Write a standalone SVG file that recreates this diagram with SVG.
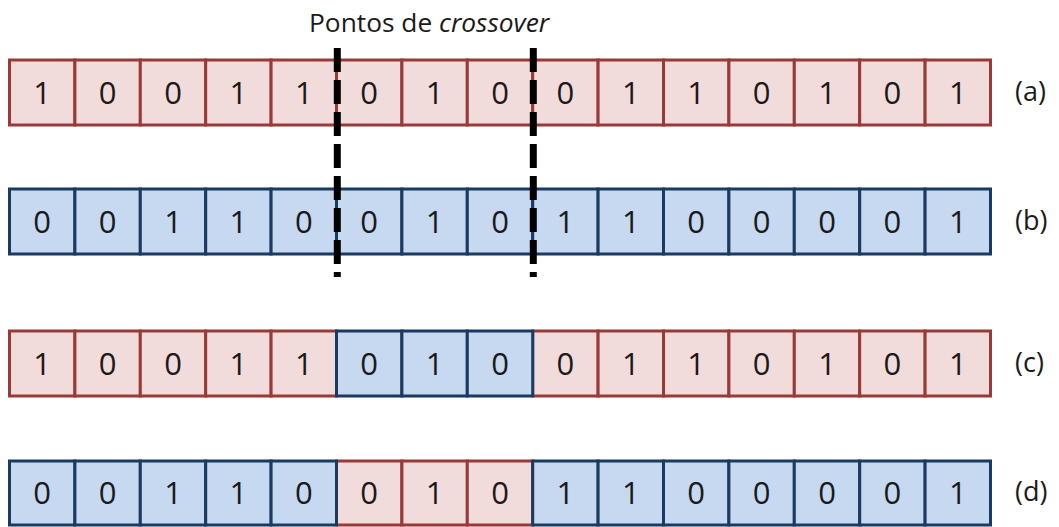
<svg xmlns="http://www.w3.org/2000/svg" width="1059" height="527" viewBox="0 0 1059 527">
<style>
.r{fill:#F2DCDB;stroke:#9A3A38;stroke-width:3}
.b{fill:#C6D9F1;stroke:#1B3A62;stroke-width:3}
.d{font-family:"Open Sans","Liberation Sans",sans-serif;font-size:31px;fill:#1a1a1a;text-anchor:middle}
.l{font-family:"Open Sans","Liberation Sans",sans-serif;font-size:27px;fill:#1a1a1a}
.t{font-family:"Open Sans","Liberation Sans",sans-serif;font-size:26.3px;fill:#1a1a1a}
.cut{stroke:#000;stroke-width:7;stroke-dasharray:24 8;fill:none}
</style>
<rect width="1059" height="527" fill="#fff"/>
<g id="row-a">
<rect class="r" x="9.5" y="60" width="65.4" height="65"/><rect class="r" x="74.9" y="60" width="65.4" height="65"/><rect class="r" x="140.3" y="60" width="65.4" height="65"/><rect class="r" x="205.7" y="60" width="65.4" height="65"/><rect class="r" x="271.1" y="60" width="65.4" height="65"/><rect class="r" x="336.5" y="60" width="65.4" height="65"/><rect class="r" x="401.9" y="60" width="65.4" height="65"/><rect class="r" x="467.3" y="60" width="65.4" height="65"/><rect class="r" x="532.7" y="60" width="65.4" height="65"/><rect class="r" x="598.1" y="60" width="65.4" height="65"/><rect class="r" x="663.5" y="60" width="65.4" height="65"/><rect class="r" x="728.9" y="60" width="65.4" height="65"/><rect class="r" x="794.3" y="60" width="65.4" height="65"/><rect class="r" x="859.7" y="60" width="65.4" height="65"/><rect class="r" x="925.1" y="60" width="65.4" height="65"/>
<text class="d" y="104"><tspan x="42.2">1</tspan><tspan x="107.6">0</tspan><tspan x="173">0</tspan><tspan x="238.4">1</tspan><tspan x="303.8">1</tspan><tspan x="369.2">0</tspan><tspan x="434.6">1</tspan><tspan x="500">0</tspan><tspan x="565.4">0</tspan><tspan x="630.8">1</tspan><tspan x="696.2">1</tspan><tspan x="761.6">0</tspan><tspan x="827">1</tspan><tspan x="892.4">0</tspan><tspan x="957.8">1</tspan></text>
<text class="l" x="1015" y="101">(a)</text>
</g>
<g id="row-b">
<rect class="b" x="9.5" y="189" width="65.4" height="65"/><rect class="b" x="74.9" y="189" width="65.4" height="65"/><rect class="b" x="140.3" y="189" width="65.4" height="65"/><rect class="b" x="205.7" y="189" width="65.4" height="65"/><rect class="b" x="271.1" y="189" width="65.4" height="65"/><rect class="b" x="336.5" y="189" width="65.4" height="65"/><rect class="b" x="401.9" y="189" width="65.4" height="65"/><rect class="b" x="467.3" y="189" width="65.4" height="65"/><rect class="b" x="532.7" y="189" width="65.4" height="65"/><rect class="b" x="598.1" y="189" width="65.4" height="65"/><rect class="b" x="663.5" y="189" width="65.4" height="65"/><rect class="b" x="728.9" y="189" width="65.4" height="65"/><rect class="b" x="794.3" y="189" width="65.4" height="65"/><rect class="b" x="859.7" y="189" width="65.4" height="65"/><rect class="b" x="925.1" y="189" width="65.4" height="65"/>
<text class="d" y="233"><tspan x="42.2">0</tspan><tspan x="107.6">0</tspan><tspan x="173">1</tspan><tspan x="238.4">1</tspan><tspan x="303.8">0</tspan><tspan x="369.2">0</tspan><tspan x="434.6">1</tspan><tspan x="500">0</tspan><tspan x="565.4">1</tspan><tspan x="630.8">1</tspan><tspan x="696.2">0</tspan><tspan x="761.6">0</tspan><tspan x="827">0</tspan><tspan x="892.4">0</tspan><tspan x="957.8">1</tspan></text>
<text class="l" x="1015" y="230">(b)</text>
</g>
<g id="row-c">
<rect class="r" x="9.5" y="331" width="65.4" height="65"/><rect class="r" x="74.9" y="331" width="65.4" height="65"/><rect class="r" x="140.3" y="331" width="65.4" height="65"/><rect class="r" x="205.7" y="331" width="65.4" height="65"/><rect class="r" x="271.1" y="331" width="65.4" height="65"/><rect class="r" x="532.7" y="331" width="65.4" height="65"/><rect class="r" x="598.1" y="331" width="65.4" height="65"/><rect class="r" x="663.5" y="331" width="65.4" height="65"/><rect class="r" x="728.9" y="331" width="65.4" height="65"/><rect class="r" x="794.3" y="331" width="65.4" height="65"/><rect class="r" x="859.7" y="331" width="65.4" height="65"/><rect class="r" x="925.1" y="331" width="65.4" height="65"/>
<rect class="b" x="336.5" y="331" width="65.4" height="65"/><rect class="b" x="401.9" y="331" width="65.4" height="65"/><rect class="b" x="467.3" y="331" width="65.4" height="65"/>
<text class="d" y="375"><tspan x="42.2">1</tspan><tspan x="107.6">0</tspan><tspan x="173">0</tspan><tspan x="238.4">1</tspan><tspan x="303.8">1</tspan><tspan x="369.2">0</tspan><tspan x="434.6">1</tspan><tspan x="500">0</tspan><tspan x="565.4">0</tspan><tspan x="630.8">1</tspan><tspan x="696.2">1</tspan><tspan x="761.6">0</tspan><tspan x="827">1</tspan><tspan x="892.4">0</tspan><tspan x="957.8">1</tspan></text>
<text class="l" x="1015" y="372">(c)</text>
</g>
<g id="row-d">
<rect class="r" x="336.5" y="461" width="65.4" height="64"/><rect class="r" x="401.9" y="461" width="65.4" height="64"/><rect class="r" x="467.3" y="461" width="65.4" height="64"/>
<rect class="b" x="9.5" y="461" width="65.4" height="64"/><rect class="b" x="74.9" y="461" width="65.4" height="64"/><rect class="b" x="140.3" y="461" width="65.4" height="64"/><rect class="b" x="205.7" y="461" width="65.4" height="64"/><rect class="b" x="271.1" y="461" width="65.4" height="64"/><rect class="b" x="532.7" y="461" width="65.4" height="64"/><rect class="b" x="598.1" y="461" width="65.4" height="64"/><rect class="b" x="663.5" y="461" width="65.4" height="64"/><rect class="b" x="728.9" y="461" width="65.4" height="64"/><rect class="b" x="794.3" y="461" width="65.4" height="64"/><rect class="b" x="859.7" y="461" width="65.4" height="64"/><rect class="b" x="925.1" y="461" width="65.4" height="64"/>
<text class="d" y="504"><tspan x="42.2">0</tspan><tspan x="107.6">0</tspan><tspan x="173">1</tspan><tspan x="238.4">1</tspan><tspan x="303.8">0</tspan><tspan x="369.2">0</tspan><tspan x="434.6">1</tspan><tspan x="500">0</tspan><tspan x="565.4">1</tspan><tspan x="630.8">1</tspan><tspan x="696.2">0</tspan><tspan x="761.6">0</tspan><tspan x="827">0</tspan><tspan x="892.4">0</tspan><tspan x="957.8">1</tspan></text>
<text class="l" x="1015" y="501">(d)</text>
</g>
<g id="connectors">
<line class="cut" x1="337.3" y1="48" x2="337.3" y2="277"/>
<line class="cut" x1="533.3" y1="48" x2="533.3" y2="277"/>
</g>
<g id="title">
<text class="t" x="309" y="32">Pontos de <tspan font-style="italic">crossover</tspan></text>
</g>
</svg>
